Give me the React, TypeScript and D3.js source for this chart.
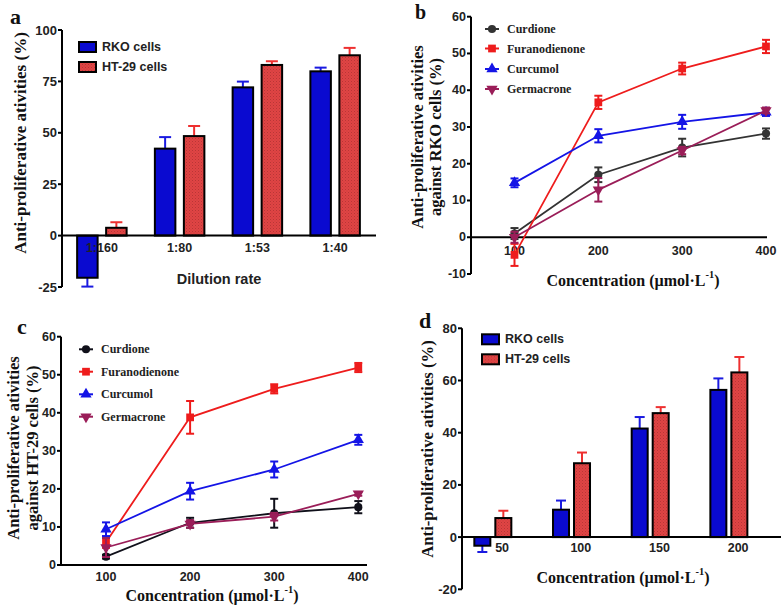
import React from "react";
import * as d3 from "d3";

// ---------- DATA ----------
const dilutionRates = ["1:160", "1:80", "1:53", "1:40"];
const aRKO = [-20.5, 42.3, 72.1, 79.9];
const aRKOErr = [4.3, 5.6, 2.8, 1.8];
const aHT = [3.8, 48.4, 83.0, 87.7];
const aHTErr = [2.7, 4.9, 1.8, 3.6];
const aTicks = [-25, 0, 25, 50, 75, 100];

const dConcs = ["50", "100", "150", "200"];
const dRKO = [-3.3, 10.5, 41.6, 56.4];
const dRKOErr = [2.4, 3.5, 4.4, 4.4];
const dHT = [7.3, 28.3, 47.5, 63.1];
const dHTErr = [2.8, 4.1, 2.3, 5.9];
const dTicks = [-20, 0, 20, 40, 60, 80];

const concentrations = [100, 200, 300, 400];
const compounds = ["Curdione", "Furanodienone", "Curcumol", "Germacrone"];

const bCurdione = [1.0, 17.0, 24.4, 28.2];
const bCurdioneErr = [1.5, 2.0, 2.4, 1.4];
const bFuranodienone = [-4.8, 36.7, 45.9, 51.9];
const bFuranodienoneErr = [3.0, 1.8, 1.6, 1.8];
const bCurcumol = [14.8, 27.6, 31.4, 34.0];
const bCurcumolErr = [1.2, 1.8, 1.9, 1.0];
const bGermacrone = [0.0, 12.9, 23.6, 34.5];
const bGermacroneErr = [1.5, 3.2, 1.0, 0.8];
const bTicks = [-10, 0, 10, 20, 30, 40, 50, 60];

const cCurdione = [2.2, 11.1, 13.6, 15.2];
const cCurdioneErr = [0.5, 1.3, 3.8, 1.6];
const cFuranodienone = [6.0, 38.8, 46.3, 51.9];
const cFuranodienoneErr = [1.5, 4.3, 1.2, 1.2];
const cCurcumol = [9.4, 19.4, 25.1, 32.9];
const cCurcumolErr = [1.8, 2.2, 2.1, 1.3];
const cGermacrone = [4.6, 10.8, 12.7, 18.7];
const cGermacroneErr = [2.5, 1.0, 1.0, 0.5];
const cTicks = [0, 10, 20, 30, 40, 50, 60];

// ---------- STYLE ----------
const SANS = "Arial, 'Liberation Sans', sans-serif";
const SERIF = "'Times New Roman', 'Liberation Serif', serif";
const BLUE = "#0a0ad0";
const RED = "#e04444";
const RED_ERR = "#ee3030";
const BLUE_ERR = "#1a1ae0";

type LineStyle = { color: string; shape: d3.SymbolType; size: number; rotate?: number };

function lineStyles(curdColor: string): LineStyle[] {
  return [
    { color: curdColor, shape: d3.symbolCircle, size: 52 },
    { color: "#ee1c1c", shape: d3.symbolSquare, size: 60 },
    { color: "#1414e6", shape: d3.symbolTriangle, size: 55 },
    { color: "#9a1d58", shape: d3.symbolTriangle, size: 55, rotate: 180 },
  ];
}

function YAxis({ y, ticks, x, fontSize }: { y: d3.ScaleLinear<number, number>; ticks: number[]; x: number; fontSize: number }) {
  const [d0, d1] = y.domain();
  return (
    <g>
      <line x1={x} x2={x} y1={y(d0)} y2={y(d1)} stroke="#000" strokeWidth={2} />
      {ticks.map((t) => (
        <g key={t}>
          <line x1={x - 4} x2={x} y1={y(t)} y2={y(t)} stroke="#000" strokeWidth={2} />
          <text x={x - 5} y={y(t)} textAnchor="end" dominantBaseline="central" fontFamily={SANS} fontWeight="bold" fontSize={fontSize} fill="#222">
            {t}
          </text>
        </g>
      ))}
    </g>
  );
}

function ConcLabel({ cx, cy, size }: { cx: number; cy: number; size: number }) {
  return (
    <text x={cx} y={cy} textAnchor="middle" dominantBaseline="central" fontFamily={SERIF} fontWeight="bold" fontSize={size} fill="#111">
      Concentration (µmol·L
      <tspan fontSize={size * 0.65} dy={-size * 0.35}>-1</tspan>
      <tspan dy={size * 0.35}>)</tspan>
    </text>
  );
}

type BarLayout = {
  axisX: number;
  axisRight: number;
  yTop: number;
  yBottom: number;
  bandRange: [number, number];
  barW: number;
  barOff: number;
  capW: number;
  labelDx: number;
  labelY: number;
  legendX: number;
  legendY: number;
};

function BarPanel({
  cats, rko, rkoErr, ht, htErr, ticks, L,
}: {
  cats: string[]; rko: number[]; rkoErr: number[]; ht: number[]; htErr: number[]; ticks: number[]; L: BarLayout;
}) {
  const y = d3.scaleLinear().domain([ticks[0], ticks[ticks.length - 1]]).range([L.yBottom, L.yTop]);
  const x = d3.scaleBand().domain(cats).range(L.bandRange).padding(0);
  const y0 = y(0);
  const series = [
    { vals: rko, errs: rkoErr, fill: BLUE, err: BLUE_ERR, off: -L.barOff },
    { vals: ht, errs: htErr, fill: "url(#hatch)", err: RED_ERR, off: L.barOff },
  ];
  return (
    <g>
      {series.map((s, si) =>
        s.vals.map((v, i) => {
          const cx = (x(cats[i]) as number) + x.bandwidth() / 2 + s.off;
          const yv = y(v);
          const ye = y(v >= 0 ? v + s.errs[i] : v - s.errs[i]);
          return (
            <g key={`${si}-${i}`}>
              <line x1={cx} x2={cx} y1={yv} y2={ye} stroke={s.err} strokeWidth={2} />
              <line x1={cx - L.capW / 2} x2={cx + L.capW / 2} y1={ye} y2={ye} stroke={s.err} strokeWidth={2} />
              <rect x={cx - L.barW / 2} y={Math.min(yv, y0)} width={L.barW} height={Math.abs(yv - y0)} fill={s.fill} stroke="#000" strokeWidth={2} />
            </g>
          );
        })
      )}
      <line x1={L.axisX} x2={L.axisRight} y1={y0} y2={y0} stroke="#000" strokeWidth={2} />
      <YAxis y={y} ticks={ticks} x={L.axisX} fontSize={13} />
      {cats.map((c) => (
        <text key={c} x={(x(c) as number) + x.bandwidth() / 2 + L.labelDx} y={L.labelY} textAnchor="middle" dominantBaseline="central" fontFamily={SANS} fontWeight="bold" fontSize={12.5} fill="#222">
          {c}
        </text>
      ))}
      {[
        { label: "RKO cells", fill: BLUE },
        { label: "HT-29 cells", fill: "url(#hatch)" },
      ].map((d, i) => (
        <g key={d.label} transform={`translate(${L.legendX},${L.legendY + i * 20})`}>
          <rect x={0} y={-5} width={17} height={10} fill={d.fill} stroke="#000" strokeWidth={2} />
          <text x={23} y={0} dominantBaseline="central" fontFamily={SANS} fontWeight="bold" fontSize={12.5} fill="#222">
            {d.label}
          </text>
        </g>
      ))}
    </g>
  );
}

type LineLayout = {
  axisX: number;
  axisRight: number;
  yTop: number;
  yBottom: number;
  x100: number;
  x400: number;
  labelY: number;
  legendX: number;
  legendY: number[];
};

function LinePanel({
  values, errors, ticks, L, styles,
}: {
  values: number[][]; errors: number[][]; ticks: number[]; L: LineLayout; styles: LineStyle[];
}) {
  const y = d3.scaleLinear().domain([ticks[0], ticks[ticks.length - 1]]).range([L.yBottom, L.yTop]);
  const x = d3.scaleLinear().domain([concentrations[0], concentrations[concentrations.length - 1]]).range([L.x100, L.x400]);
  const line = d3.line<number>().x((_, i) => x(concentrations[i])).y((v) => y(v));
  const sym = (s: LineStyle) => d3.symbol().type(s.shape).size(s.size)() as string;
  const y0 = y(0);
  return (
    <g>
      <line x1={L.axisX} x2={L.axisRight} y1={y0} y2={y0} stroke="#000" strokeWidth={2} />
      <YAxis y={y} ticks={ticks} x={L.axisX} fontSize={12.5} />
      {concentrations.map((c) => (
        <text key={c} x={x(c)} y={L.labelY} textAnchor="middle" dominantBaseline="central" fontFamily={SANS} fontWeight="bold" fontSize={12.5} fill="#222">
          {c}
        </text>
      ))}
      {values.map((vals, si) => {
        const s = styles[si];
        return (
          <g key={si}>
            <path d={line(vals) as string} fill="none" stroke={s.color} strokeWidth={1.8} />
            {vals.map((v, i) => {
              const cx = x(concentrations[i]);
              const e = errors[si][i];
              return (
                <g key={i} stroke={s.color} strokeWidth={2}>
                  <line x1={cx} x2={cx} y1={y(v - e)} y2={y(v + e)} />
                  <line x1={cx - 4} x2={cx + 4} y1={y(v - e)} y2={y(v - e)} />
                  <line x1={cx - 4} x2={cx + 4} y1={y(v + e)} y2={y(v + e)} />
                </g>
              );
            })}
            {vals.map((v, i) => (
              <path key={`m${i}`} d={sym(s)} transform={`translate(${x(concentrations[i])},${y(v)}) rotate(${s.rotate ?? 0})`} fill={s.color} />
            ))}
          </g>
        );
      })}
      {compounds.map((name, i) => {
        const s = styles[i];
        const ly = L.legendY[i];
        return (
          <g key={name}>
            <line x1={L.legendX - 7} x2={L.legendX + 7} y1={ly} y2={ly} stroke={s.color} strokeWidth={2} />
            <path d={sym(s)} transform={`translate(${L.legendX},${ly}) rotate(${s.rotate ?? 0})`} fill={s.color} />
            <text x={L.legendX + 15} y={ly} dominantBaseline="central" fontFamily={SERIF} fontWeight="bold" fontSize={12} fill="#222">
              {name}
            </text>
          </g>
        );
      })}
    </g>
  );
}

function RotLabel({ x, y, size, family, children }: { x: number; y: number; size: number; family: string; children: React.ReactNode }) {
  return (
    <text transform={`translate(${x},${y}) rotate(-90)`} textAnchor="middle" dominantBaseline="central" fontFamily={family} fontWeight="bold" fontSize={size} fill="#111">
      {children}
    </text>
  );
}

export default function App() {
  const stylesB = lineStyles("#333333");
  const stylesC = lineStyles("#10101a");
  return (
    <svg width={784} height={607} style={{ position: "absolute", left: 0, top: 0, background: "#fff" }}>
      <defs>
        <pattern id="hatch" width={3} height={3} patternUnits="userSpaceOnUse">
          <rect width={3} height={3} fill={RED} />
          <rect x={0} y={0} width={1} height={1} fill="#b83636" />
          <rect x={1.5} y={1.5} width={1} height={1} fill="#c43c3c" />
        </pattern>
      </defs>

      {/* Panel a */}
      <text x={10} y={24} fontFamily={SERIF} fontWeight="bold" fontSize={22} fill="#111">a</text>
      <BarPanel
        cats={dilutionRates} rko={aRKO} rkoErr={aRKOErr} ht={aHT} htErr={aHTErr} ticks={aTicks}
        L={{ axisX: 62, axisRight: 376, yTop: 30, yBottom: 287, bandRange: [63, 374], barW: 20.5, barOff: 14.5, capW: 12, labelDx: 0, labelY: 248, legendX: 79, legendY: 47 }}
      />
      <RotLabel x={20} y={143} size={17} family={SERIF}>Anti-proliferative ativities (%)</RotLabel>
      <text x={219} y={279} textAnchor="middle" dominantBaseline="central" fontFamily={SANS} fontWeight="bold" fontSize={14.5} fill="#222">Dilution rate</text>

      {/* Panel b */}
      <text x={415} y={19} fontFamily={SERIF} fontWeight="bold" fontSize={20} fill="#111">b</text>
      <LinePanel
        values={[bCurdione, bFuranodienone, bCurcumol, bGermacrone]}
        errors={[bCurdioneErr, bFuranodienoneErr, bCurcumolErr, bGermacroneErr]}
        ticks={bTicks} styles={stylesB}
        L={{ axisX: 471, axisRight: 767, yTop: 16.7, yBottom: 274, x100: 514.5, x400: 766, labelY: 251, legendX: 492, legendY: [29, 48.5, 69, 89] }}
      />
      <RotLabel x={417} y={137} size={16.5} family={SERIF}>Anti-proliferative ativities</RotLabel>
      <RotLabel x={435} y={137} size={16.5} family={SERIF}>against RKO cells (%)</RotLabel>
      <ConcLabel cx={633} cy={280} size={16} />

      {/* Panel c */}
      <text x={17} y={334} fontFamily={SERIF} fontWeight="bold" fontSize={22} fill="#111">c</text>
      <LinePanel
        values={[cCurdione, cFuranodienone, cCurcumol, cGermacrone]}
        errors={[cCurdioneErr, cFuranodienoneErr, cCurcumolErr, cGermacroneErr]}
        ticks={cTicks} styles={stylesC}
        L={{ axisX: 61, axisRight: 367, yTop: 336.7, yBottom: 565, x100: 106, x400: 358.3, labelY: 577, legendX: 86, legendY: [349.3, 371.7, 394.3, 416.7] }}
      />
      <RotLabel x={13} y={448} size={16.5} family={SERIF}>Anti-proliferative ativities</RotLabel>
      <RotLabel x={32} y={448} size={16.5} family={SERIF}>against HT-29 cells (%)</RotLabel>
      <ConcLabel cx={212} cy={595} size={16} />

      {/* Panel d */}
      <text x={419} y={328} fontFamily={SERIF} fontWeight="bold" fontSize={22} fill="#111">d</text>
      <BarPanel
        cats={dConcs} rko={dRKO} rkoErr={dRKOErr} ht={dHT} htErr={dHTErr} ticks={dTicks}
        L={{ axisX: 462, axisRight: 781, yTop: 328.3, yBottom: 589.3, bandRange: [453.5, 768.2], barW: 16, barOff: 10.5, capW: 10, labelDx: 9.3, labelY: 548, legendX: 482, legendY: 339.3 }}
      />
      <RotLabel x={427} y={449} size={16.7} family={SERIF}>Anti-proliferative ativities (%)</RotLabel>
      <ConcLabel cx={623} cy={577} size={16} />
    </svg>
  );
}
